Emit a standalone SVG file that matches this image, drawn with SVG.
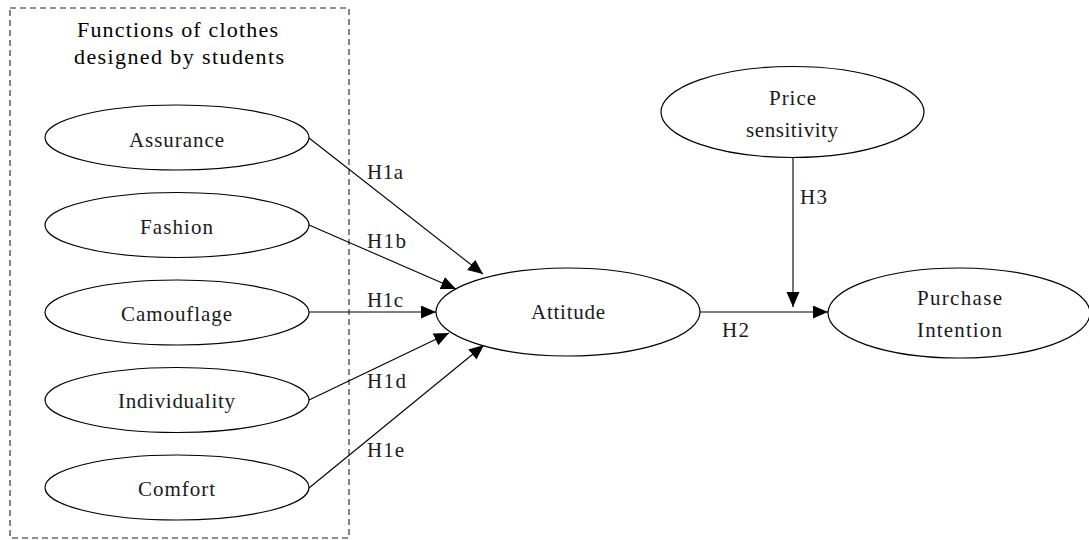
<svg xmlns="http://www.w3.org/2000/svg" width="1089" height="540" viewBox="0 0 1089 540">
<style>
.n{fill:#fff;stroke:#000;stroke-width:1.2}
.t{font-family:"Liberation Serif","Times New Roman",serif;font-size:21px;fill:#1a1a1a}
.h{font-family:"Liberation Serif","Times New Roman",serif;font-size:22px;fill:#000}
.c{stroke:#000;stroke-width:1.1;fill:none;marker-end:url(#ah)}
.g{fill:none;stroke:#222;stroke-width:1.1;stroke-dasharray:6,4}
</style>
<defs>
<marker id="ah" markerUnits="userSpaceOnUse" markerWidth="16" markerHeight="14" refX="15" refY="6.5" orient="auto">
<path d="M0,0 L15,6.5 L0,13 z" fill="#000"/>
</marker>
</defs>
<rect width="1089" height="540" fill="#fff"/>
<g id="group-functions">
<rect class="g" x="10" y="8" width="339" height="530"/>
<text class="h" x="77" y="37" textLength="201" lengthAdjust="spacing">Functions of clothes</text>
<text class="h" x="74" y="64" textLength="210" lengthAdjust="spacing">designed by students</text>
</g>
<g id="connectors">
<line class="c" x1="309" y1="138" x2="483" y2="274"/>
<line class="c" x1="309" y1="225" x2="456" y2="289"/>
<line class="c" x1="309" y1="312" x2="436" y2="312"/>
<line class="c" x1="309" y1="400" x2="449" y2="333"/>
<line class="c" x1="309" y1="488" x2="484" y2="345"/>
<line class="c" x1="700" y1="312" x2="828" y2="312"/>
<line class="c" x1="793" y1="158" x2="793" y2="307"/>
<text class="t" x="367" y="179" textLength="36" lengthAdjust="spacing">H1a</text>
<text class="t" x="367" y="248" textLength="39" lengthAdjust="spacing">H1b</text>
<text class="t" x="367" y="307" textLength="36" lengthAdjust="spacing">H1c</text>
<text class="t" x="367" y="388" textLength="39" lengthAdjust="spacing">H1d</text>
<text class="t" x="367" y="457" textLength="37" lengthAdjust="spacing">H1e</text>
<text class="t" x="722" y="337" textLength="27" lengthAdjust="spacing">H2</text>
<text class="t" x="800" y="204" textLength="27" lengthAdjust="spacing">H3</text>
</g>
<g id="assurance">
<ellipse class="n" cx="177" cy="137.5" rx="132" ry="32.5"/>
<text class="t" x="129" y="147" textLength="95" lengthAdjust="spacing">Assurance</text>
</g>
<g id="fashion">
<ellipse class="n" cx="177" cy="225" rx="132" ry="32.5"/>
<text class="t" x="140" y="234" textLength="73" lengthAdjust="spacing">Fashion</text>
</g>
<g id="camouflage">
<ellipse class="n" cx="177" cy="312.5" rx="132" ry="32.5"/>
<text class="t" x="121" y="321" textLength="111" lengthAdjust="spacing">Camouflage</text>
</g>
<g id="individuality">
<ellipse class="n" cx="177" cy="400" rx="132" ry="32.5"/>
<text class="t" x="118" y="408" textLength="117" lengthAdjust="spacing">Individuality</text>
</g>
<g id="comfort">
<ellipse class="n" cx="177" cy="487.5" rx="132" ry="32.5"/>
<text class="t" x="138" y="496" textLength="77" lengthAdjust="spacing">Comfort</text>
</g>
<g id="attitude">
<ellipse class="n" cx="568" cy="312" rx="132" ry="44"/>
<text class="t" x="531" y="319" textLength="74" lengthAdjust="spacing">Attitude</text>
</g>
<g id="price-sensitivity">
<ellipse class="n" cx="792.5" cy="112" rx="131.5" ry="45.5"/>
<text class="t" x="769" y="105" textLength="47" lengthAdjust="spacing">Price</text>
<text class="t" x="746" y="137" textLength="92" lengthAdjust="spacing">sensitivity</text>
</g>
<g id="purchase-intention">
<ellipse class="n" cx="959" cy="313" rx="131" ry="45"/>
<text class="t" x="917" y="305" textLength="85" lengthAdjust="spacing">Purchase</text>
<text class="t" x="917" y="337" textLength="85" lengthAdjust="spacing">Intention</text>
</g>
</svg>
